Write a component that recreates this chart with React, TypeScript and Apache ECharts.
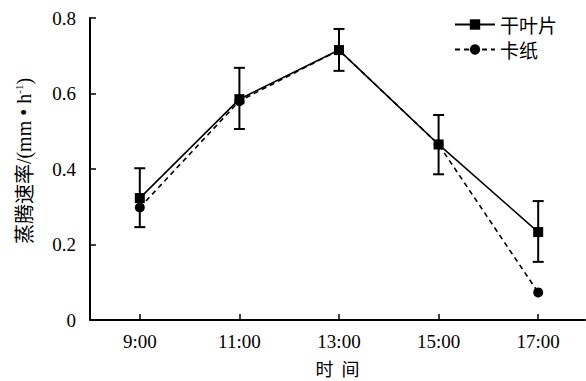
import React, { useEffect, useRef } from "react";
import * as echarts from "echarts";

const hours = [9, 11, 13, 15, 17];
const hourLabels = ["9:00", "11:00", "13:00", "15:00", "17:00"];
const leafValues = [0.323, 0.585, 0.715, 0.465, 0.233];
const leafErrLow = [0.246, 0.506, 0.66, 0.386, 0.154];
const leafErrHigh = [0.402, 0.668, 0.771, 0.543, 0.315];
const cardValues = [0.298, 0.58, 0.715, 0.465, 0.073];

const SERIF = "'Liberation Serif', 'Times New Roman', 'Noto Sans CJK SC', serif";
const CJK = "'Noto Sans CJK SC', sans-serif";

export default function App() {
  const ref = useRef<HTMLDivElement>(null);
  useEffect(() => {
    if (!ref.current) return;
    const chart = echarts.init(ref.current, null, { renderer: "svg" });
    const option: any = {
      animation: false,
      backgroundColor: "#fff",
      grid: { left: 90, right: 1, top: 18, bottom: 61, containLabel: false, outerBoundsMode: "none" },
      legend: {
        orient: "vertical",
        right: 24,
        top: 10,
        itemWidth: 40,
        itemHeight: 13,
        itemGap: 6,
        textStyle: { fontFamily: CJK, fontSize: 19, color: "#000" },
        data: ["干叶片", "卡纸"],
      },
      xAxis: {
        type: "value",
        min: 8,
        max: 17.94,
        name: "时  间",
        nameLocation: "middle",
        nameGap: 38,
        nameTextStyle: { fontFamily: CJK, fontSize: 18, color: "#000", lineHeight: 20 },
        axisLine: { show: true, lineStyle: { color: "#000", width: 2 } },
        axisTick: {
          show: true,
          inside: true,
          length: 6,
          lineStyle: { color: "#000", width: 1.5 },
          customValues: hours,
        },
        axisLabel: {
          customValues: hours,
          formatter: (v: number) => hourLabels[hours.indexOf(v)] ?? "",
          fontFamily: SERIF,
          fontSize: 19,
          color: "#000",
          margin: 12,
        },
        splitLine: { show: false },
      },
      yAxis: {
        type: "value",
        min: 0,
        max: 0.8,
        interval: 0.2,
        name: "{a|蒸腾速率}{b|/(mm • h}{s|-1}{b|)}",
        nameLocation: "middle",
        nameGap: 56,
        nameRotate: 90,
        nameTextStyle: {
          color: "#000",
          padding: [0, 0, 0, 16],
          rich: {
            a: { fontFamily: CJK, fontSize: 20, color: "#000" },
            b: { fontFamily: SERIF, fontSize: 20, color: "#000" },
            s: { fontFamily: SERIF, fontSize: 11, color: "#000", verticalAlign: "top", padding: [0, 0, 10, 0] },
          },
        },
        axisLine: { show: true, lineStyle: { color: "#000", width: 2 } },
        axisTick: { show: true, inside: true, length: 6, lineStyle: { color: "#000", width: 1.5 } },
        axisLabel: {
          formatter: (v: number) => (v === 0 ? "0" : v.toFixed(1)),
          fontFamily: SERIF,
          fontSize: 19,
          color: "#000",
          margin: 14,
        },
        splitLine: { show: false },
      },
      series: [
        {
          name: "卡纸",
          type: "line",
          data: hours.map((h, i) => [h, cardValues[i]]),
          symbol: "circle",
          symbolSize: 10,
          itemStyle: { color: "#000" },
          lineStyle: { color: "#000", width: 1.6, type: [5, 4] },
          z: 3,
        },
        {
          name: "干叶片",
          type: "line",
          data: hours.map((h, i) => [h, leafValues[i]]),
          symbol: "rect",
          symbolSize: 10,
          itemStyle: { color: "#000" },
          lineStyle: { color: "#000", width: 1.6, type: "solid" },
          z: 4,
        },
        {
          name: "err",
          type: "custom",
          z: 5,
          data: hours.map((h, i) => [h, leafErrLow[i], leafErrHigh[i]]),
          renderItem: (params: any, api: any) => {
            const x = api.value(0);
            const lo = api.coord([x, api.value(1)]);
            const hi = api.coord([x, api.value(2)]);
            const w = 5.5;
            const style = { stroke: "#000", lineWidth: 2 };
            return {
              type: "group",
              children: [
                { type: "line", shape: { x1: lo[0], y1: lo[1], x2: hi[0], y2: hi[1] }, style },
                { type: "line", shape: { x1: hi[0] - w, y1: hi[1], x2: hi[0] + w, y2: hi[1] }, style },
                { type: "line", shape: { x1: lo[0] - w, y1: lo[1], x2: lo[0] + w, y2: lo[1] }, style },
              ],
            };
          },
        },
      ],
    };
    chart.setOption(option);
    return () => chart.dispose();
  }, []);
  return <div ref={ref} style={{ width: 586, height: 381, position: "absolute", left: 0, top: 0 }} />;
}
